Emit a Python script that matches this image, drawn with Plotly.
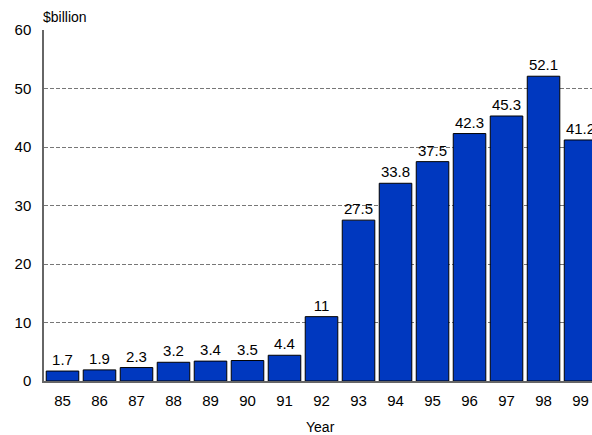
import plotly.graph_objects as go

years = ["85", "86", "87", "88", "89", "90", "91", "92", "93", "94", "95", "96", "97", "98", "99"]
values = [1.7, 1.9, 2.3, 3.2, 3.4, 3.5, 4.4, 11, 27.5, 33.8, 37.5, 42.3, 45.3, 52.1, 41.2]
labels = ["1.7", "1.9", "2.3", "3.2", "3.4", "3.5", "4.4", "11", "27.5", "33.8", "37.5", "42.3", "45.3", "52.1", "41.2"]
y_ticks = [0, 10, 20, 30, 40, 50, 60]

FONT = "Arial"

fig = go.Figure(go.Bar(
    x=list(range(len(years))),
    y=values,
    text=labels,
    textposition="outside",
    textfont=dict(family=FONT, size=15, color="black"),
    marker=dict(color="#0038BF", line=dict(color="black", width=1)),
    cliponaxis=False,
))

fig.update_layout(
    width=592, height=435,
    margin=dict(l=44, r=0, t=30, b=54),
    plot_bgcolor="white", paper_bgcolor="white",
    bargap=0.12,
    showlegend=False,
    font=dict(family=FONT, size=15, color="black"),
    annotations=[
        dict(text="$billion", xref="paper", yref="paper", x=0, y=1,
             xanchor="left", yanchor="bottom", yshift=3, xshift=-3,
             showarrow=False, font=dict(family=FONT, size=14, color="black")),
        dict(text="Year", xref="paper", yref="paper", x=0.5, y=0,
             xanchor="center", yanchor="middle", yshift=-46, xshift=2,
             showarrow=False, font=dict(family=FONT, size=14, color="black")),
    ],
)
fig.update_xaxes(
    tickmode="array", tickvals=list(range(len(years))), ticktext=years,
    range=[-0.5, 14.31], showgrid=False, showline=True, linecolor="#666666",
    linewidth=1.5, ticks="", automargin=False, ticklabelstandoff=5,
    tickfont=dict(family=FONT, size=15),
)
fig.update_yaxes(
    range=[0, 60], tickvals=y_ticks, showgrid=True, gridcolor="#777777",
    griddash="4px,2px", gridwidth=1, showline=True, linecolor="#666666",
    linewidth=1.5, zeroline=False, ticks="", automargin=False,
    ticklabelstandoff=8,
    tickfont=dict(family=FONT, size=15),
)

fig.write_html(
    "out.html",
    config={"displayModeBar": False},
    post_script="document.body.style.margin='0';document.body.style.overflow='hidden';",
)
